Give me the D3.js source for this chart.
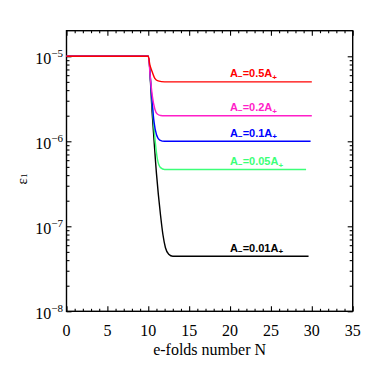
<!DOCTYPE html>
<html>
<head>
<meta charset="utf-8">
<script src="https://cdn.jsdelivr.net/npm/d3@7"></script>
<style>
  body { margin: 0; background: #fff; }
  svg { display: block; }
</style>
</head>
<body>
<div id="chart"></div>
<script>
// data: [N, epsilon_1]
const ratios = ['0.5', '0.2', '0.1', '0.05', '0.01'];
const seriesRed = [[0, 1e-5], [10, 1e-5], [10.2, 7.9e-6], [10.4, 6.9e-6], [10.8, 5.5e-6], [11.2, 5.13e-6], [12, 5e-6], [30, 5e-6]];
const seriesMagenta = [[0, 1e-5], [10, 1e-5], [10.25, 5.6e-6], [10.5, 3.4e-6], [10.8, 2.4e-6], [11.1, 2.09e-6], [11.5, 2.01e-6], [12, 2e-6], [30, 2e-6]];
const seriesBlue = [[0, 1e-5], [10, 1e-5], [10.4, 3.55e-6], [10.7, 1.7e-6], [11, 1.2e-6], [11.4, 1.035e-6], [12, 1e-6], [29.85, 1e-6]];
const seriesGreen = [[0, 1e-5], [10, 1e-5], [10.5, 2.5e-6], [10.8, 1.12e-6], [11.1, 6.3e-7], [11.5, 4.9e-7], [12, 4.65e-7], [29.3, 4.65e-7]];
const seriesBlack = [[0, 1e-5], [10, 1e-5], [10.5, 2e-6], [11, 4.2e-7], [11.5, 1.35e-7], [11.8, 7.9e-8], [12.1, 5.6e-8], [12.5, 4.7e-8], [13, 4.45e-8], [29.6, 4.45e-8]];
const xMajor = [0, 5, 10, 15, 20, 25, 30, 35];
const yMajor = [1e-8, 1e-7, 1e-6, 1e-5];
const yExp = ['-8', '-7', '-6', '-5'];

const allSeries = [seriesRed, seriesMagenta, seriesBlue, seriesGreen, seriesBlack];
const colors = ['#ff0000', '#ff1ec8', '#0000ff', '#3cff78', '#000000'];

const W = 374, H = 374;
const margin = { top: 30.7, right: 21.3, bottom: 62.7, left: 66.5 };
const innerW = W - margin.left - margin.right;
const innerH = H - margin.top - margin.bottom;

const svg = d3.select('#chart').append('svg').attr('width', W).attr('height', H);
const g = svg.append('g').attr('transform', `translate(${margin.left},${margin.top})`);

const x = d3.scaleLinear().domain([0, 35]).range([0, innerW]);
const y = d3.scaleLog().domain([1e-8, 2e-5]).range([innerH, 0]);

const xMinor = d3.range(0, 36, 1).filter(v => v % 5 !== 0);
const yMinor = [];
[-8, -7, -6].forEach(e => { for (let m = 2; m <= 9; m++) yMinor.push(m * Math.pow(10, e)); });

const serif = 'Liberation Serif, Times New Roman, serif';

// ticks, all pointing inwards
function tickAxis(axis, vals, size) {
  return axis.tickValues(vals).tickSizeInner(-size).tickSizeOuter(0).tickFormat('');
}
g.append('g').attr('transform', `translate(0,${innerH})`).call(tickAxis(d3.axisBottom(x), xMajor, 5));
g.append('g').attr('transform', `translate(0,${innerH})`).call(tickAxis(d3.axisBottom(x), xMinor, 2.5));
g.append('g').call(tickAxis(d3.axisTop(x), xMajor, 5));
g.append('g').call(tickAxis(d3.axisTop(x), xMinor, 2.5));
g.append('g').call(tickAxis(d3.axisLeft(y), yMajor, 5));
g.append('g').call(tickAxis(d3.axisLeft(y), yMinor, 3));
g.append('g').attr('transform', `translate(${innerW},0)`).call(tickAxis(d3.axisRight(y), yMajor, 5));
g.append('g').attr('transform', `translate(${innerW},0)`).call(tickAxis(d3.axisRight(y), yMinor, 3));
g.selectAll('.domain').remove();
g.selectAll('.tick line').attr('stroke', '#000').attr('stroke-width', 1.1);

// frame
g.append('rect')
  .attr('width', innerW).attr('height', innerH)
  .attr('fill', 'none').attr('stroke', '#000').attr('stroke-width', 1.4);

// x tick labels
g.append('g').selectAll('text')
  .data(xMajor)
  .join('text')
  .attr('x', d => x(d))
  .attr('y', innerH + 25)
  .attr('text-anchor', 'middle')
  .attr('font-family', serif)
  .attr('font-size', 16)
  .text(d => d);

// y tick labels 10^k
const yl = g.append('g').selectAll('text')
  .data(yMajor)
  .join('text')
  .attr('x', -3.5)
  .attr('y', d => y(d) + 8)
  .attr('text-anchor', 'end')
  .attr('font-family', serif)
  .attr('font-size', 16);
yl.append('tspan').text('10');
yl.append('tspan').attr('font-size', 11).attr('dy', -7).text((d, i) => yExp[i].replace('-', '\u2212'));

// lines, red drawn last so it sits on top of the shared plateau
const line = d3.line()
  .x(d => x(d[0]))
  .y(d => y(d[1]))
  .curve(d3.curveMonotoneX);

const order = [4, 3, 2, 1, 0];
g.append('g').selectAll('path')
  .data(order)
  .join('path')
  .attr('d', i => line(allSeries[i]))
  .attr('fill', 'none')
  .attr('stroke', i => colors[i])
  .attr('stroke-width', 1.4);

// series labels
const lab = g.append('g').selectAll('text')
  .data(allSeries)
  .join('text')
  .attr('x', x(20.0))
  .attr('y', d => y(d[d.length - 1][1]) - 4.5)
  .attr('fill', (d, i) => colors[i])
  .attr('font-family', 'Liberation Sans Narrow, Liberation Sans, Arial, sans-serif')
  .attr('font-weight', 'bold')
  .attr('font-size', 11);
lab.append('tspan').text('A');
lab.append('tspan').attr('font-size', 8).attr('dy', 2).text('\u2212');
lab.append('tspan').attr('dy', -2).text((d, i) => '=' + ratios[i] + 'A');
lab.append('tspan').attr('font-size', 8).attr('dy', 2.5).text('+');

// axis titles
svg.append('text')
  .attr('x', margin.left + innerW / 2)
  .attr('y', 355)
  .attr('text-anchor', 'middle')
  .attr('font-family', serif)
  .attr('font-size', 16)
  .text('e-folds number N');

const yt = svg.append('text')
  .attr('transform', `translate(27,${margin.top + innerH / 2 + 8}) rotate(-90)`)
  .attr('text-anchor', 'middle')
  .attr('font-family', serif)
  .attr('font-size', 15);
yt.append('tspan').text('\u03b5');
yt.append('tspan').attr('font-size', 9).attr('dy', 0).text('1');
</script>
</body>
</html>
